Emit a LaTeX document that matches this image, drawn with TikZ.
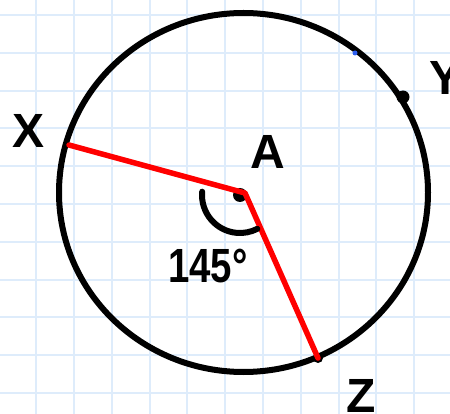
\documentclass[tikz,border=0pt]{standalone}
\usepackage{fontspec}
\setmainfont{Liberation Sans}
\definecolor{gridblue}{RGB}{222,236,251}
\definecolor{penred}{RGB}{255,0,0}
\definecolor{dotblue}{RGB}{45,95,240}
\begin{document}
\begin{tikzpicture}[x=1pt,y=-1pt,
  gridline/.style={draw=gridblue,line width=2pt},
  pen/.style={draw=black,line width=6pt,line cap=round},
  redline/.style={draw=penred,line width=5.5pt,line cap=round,line join=round},
  lab/.style={font=\fontsize{48}{48}\selectfont\bfseries,inner sep=0pt}]
\useasboundingbox (0,0) rectangle (450,414);
\clip (0,0) rectangle (450,414);
\fill[white] (0,0) rectangle (450,414);
\foreach \i in {0,...,11} \draw[gridline] ({36.2+37.8*\i},0) -- ++(0,414);
\foreach \j in {0,...,10} \draw[gridline] (0,{15+37.8*\j}) -- ++(450,0);
% circle
\draw[pen] (243.5,192.5) ellipse [x radius=184.5pt, y radius=179.5pt];
% points
\coordinate (A) at (240,195);
\coordinate (X) at (69,145);
\coordinate (Z) at (318,358);
\coordinate (Y) at (403,97);
\coordinate (B) at (355,53);
\fill[dotblue] (B) circle (2.5pt);
\fill[black] (Y) circle (6.5pt);
\fill[black] (Z) circle (5pt);
\fill[black] (A) circle (7pt);
\draw[redline] (X) -- (245,193) -- (Z);
% angle mark
\draw[pen] (A) ++(185:38) arc[start angle=185, end angle=63, radius=38];
% labels
\node[lab] (lX) at (29,131) {X};
\node[lab] (lY) at (446,78) {Y};
\node[lab] (lA) at (268,152) {A};
\node[lab] (lZ) at (361,396) {Z};
\node[lab,xscale=0.8] (lang) at (208,266) {145°};
\end{tikzpicture}
\end{document}
